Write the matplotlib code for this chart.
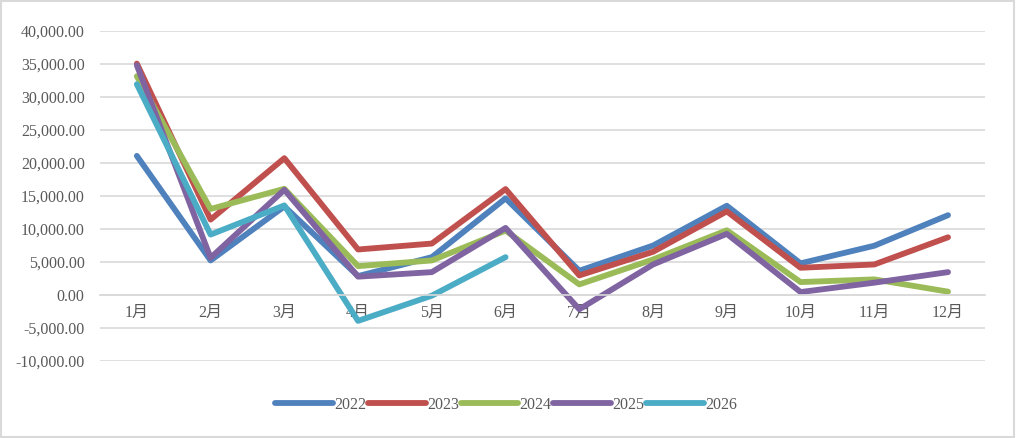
import numpy as np
import matplotlib.pyplot as plt
from matplotlib.ticker import FuncFormatter

plt.rcParams['font.family'] = ['Liberation Serif', 'Noto Sans CJK SC']

months = ['1月', '2月', '3月', '4月', '5月', '6月', '7月', '8月', '9月', '10月', '11月', '12月']
years = ['2022', '2023', '2024', '2025', '2026']
v2022 = [21090, 5240, 13430, 2870, 5740, 14650, 3680, 7500, 13530, 4800, 7470, 12100]
v2023 = [35080, 11430, 20740, 6900, 7800, 16060, 2970, 6550, 12680, 4130, 4630, 8750]
v2024 = [33160, 13040, 16100, 4380, 5240, 9770, 1610, 5390, 9810, 1960, 2370, 510]
v2025 = [34820, 5640, 15950, 2780, 3470, 10170, -2160, 4630, 9270, 450, 1870, 3470]
v2026 = [31950, 9160, 13580, -3920, -100, 5740]
colors = ['#4F81BD', '#C0504D', '#9BBB59', '#8064A2', '#4BACC6']

fig = plt.figure(figsize=(10.16, 4.38), dpi=100)
ax = fig.add_axes([0.0984, 0.1758, 0.871, 0.7532])

for name, vals, c in zip(years, [v2022, v2023, v2024, v2025, v2026], colors):
    ax.plot(np.arange(len(vals)), vals, color=c, lw=4.2, label=name,
            solid_capstyle='round', solid_joinstyle='round')

ax.set_xlim(-0.5, 11.5)
ax.set_ylim(-10000, 40000)
ax.set_yticks(np.arange(-10000, 40001, 5000))
ax.yaxis.set_major_formatter(FuncFormatter(lambda v, p: '{:,.2f}'.format(v).replace('−', '-')))
ax.set_xticks(np.arange(12))
ax.set_xticklabels(months)
ax.grid(axis='y', color='#D9D9D9', lw=1.2)
ax.set_axisbelow(True)
for s in ['top', 'right', 'left']:
    ax.spines[s].set_visible(False)
ax.spines['bottom'].set_position(('data', 0))
ax.spines['bottom'].set_color('#D9D9D9')
ax.spines['bottom'].set_linewidth(1.2)
ax.tick_params(axis='both', length=0, labelsize=11.5, labelcolor='#595959')
ax.tick_params(axis='y', pad=11)
ax.tick_params(axis='x', pad=7)

ax.legend(loc='center', bbox_to_anchor=(0.459, -0.133), ncol=5, frameon=False,
          handlelength=3.6, handletextpad=0.1, columnspacing=0.1,
          fontsize=11.5, labelcolor='#595959')

fig.patches.append(plt.Rectangle((0.001, 0.002), 0.997, 0.995, transform=fig.transFigure,
                                 fill=False, edgecolor='#D9D9D9', lw=1.5))
fig.savefig('out.png', dpi=100)
